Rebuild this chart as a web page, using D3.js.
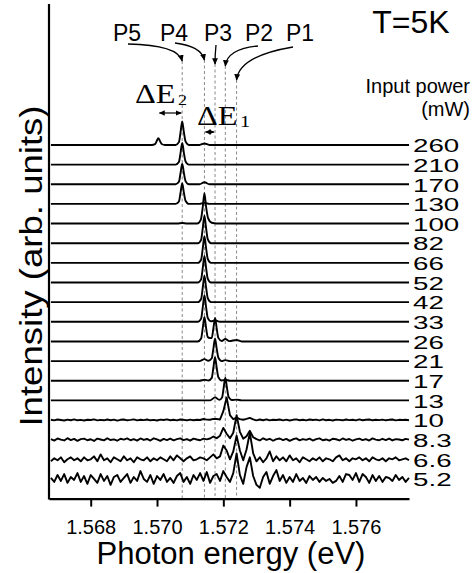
<!DOCTYPE html>
<html>
<head>
<meta charset="utf-8">
<script src="https://cdn.jsdelivr.net/npm/d3@7"></script>
<style>
  body { margin: 0; background: #fff; }
  svg { display: block; }
</style>
</head>
<body>
<div id="chart"></div>
<script>
// input power labels, top trace first
const powers = ['260','210','170','130','100','82','66','52','42','33','26','21','17','13','10','8.3','6.6','5.2'];

// peak positions (eV) marked by the dashed lines, and their names
const peakNames = ['P5','P4','P3','P2','P1'];
const peakEnergies = [1.57076, 1.57143, 1.57175, 1.57206, 1.5724];
const satellite = 1.57004; // small peak at 260 mW

const xTicks = [1.568, 1.570, 1.572, 1.574, 1.576];

// clean spectra: [energy eV, intensity above own baseline]
const s260 = [[1.5668,0],[1.56984,0],[1.56994,0.8],[1.56999,3.9],[1.57004,7],[1.57009,3.9],[1.57014,1],[1.57024,0],
  [1.57056,0],[1.57066,2.9],[1.57071,13],[1.57076,24],[1.57081,13],[1.57086,3.6],[1.57096,0],
  [1.57128,0],[1.57143,1.5],[1.57158,0],[1.5776,0]];
const s210 = [[1.5668,0],[1.57056,0],[1.57066,2.6],[1.57071,12],[1.57076,22],[1.57081,12],[1.57086,3.3],[1.57096,0],[1.5776,0]];
const s170 = [[1.5668,0],[1.57056,0],[1.57066,2.5],[1.57071,11.5],[1.57076,21],[1.57081,11.5],[1.57086,3.2],[1.57096,0],
  [1.57128,0],[1.57143,2],[1.57158,0],[1.5776,0]];
const s130 = [[1.5668,0],[1.57056,0],[1.57066,2.5],[1.57071,11.5],[1.57076,21],[1.57081,11.5],[1.57086,3.2],[1.57096,0],
  [1.57128,0],[1.57143,1],[1.57158,0],[1.5776,0]];
const s100 = [[1.5668,0],[1.57061,0],[1.57076,0.5],[1.57091,0],[1.57121,0],[1.57132,3.8],[1.57138,17],[1.57143,31],
  [1.57148,17],[1.57154,5.5],[1.57165,0.8],[1.5718,0],[1.5776,0]];
const s82 = [[1.5668,0],[1.57123,0],[1.57133,3.4],[1.57138,15.4],[1.57143,28],[1.57148,15.4],[1.57153,4.2],[1.57163,0],[1.5776,0]];
const s66 = [[1.5668,0],[1.57123,0],[1.57133,3.2],[1.57138,14.9],[1.57143,27],[1.57148,14.9],[1.57153,4],[1.57163,0],[1.5776,0]];
const s52 = [[1.5668,0],[1.57123,0],[1.57133,3.2],[1.57138,14.9],[1.57143,27],[1.57148,14.9],[1.57153,4],[1.57163,0],[1.5776,0]];
const s42 = [[1.5668,0],[1.57123,0],[1.57133,3.2],[1.57138,14.9],[1.57143,27],[1.57148,14.9],[1.57153,4],[1.57163,0],[1.5776,0]];
const s33 = [[1.5668,0],[1.57123,0],[1.57133,3.2],[1.57138,14.9],[1.57143,27],[1.57148,14.9],[1.57153,4],[1.57163,0.5],
  [1.57175,1.5],[1.5719,0],[1.5776,0]];
const s26 = [[1.5668,0],[1.57123,0],[1.57133,3],[1.57138,13.8],[1.57143,25],[1.57148,13.8],[1.57153,4.5],[1.57159,3.5],
  [1.57165,3.5],[1.5717,13.2],[1.57175,24],[1.5718,13.2],[1.57185,3.6],[1.57195,0.5],[1.57206,2.5],[1.57218,0.3],
  [1.5724,1.5],[1.57255,0],[1.5776,0]];
const s21 = [[1.5668,0],[1.57128,0],[1.57143,2],[1.57155,0.3],[1.57165,2.8],[1.5717,12.7],[1.57175,23],[1.5718,12.7],
  [1.57185,3.5],[1.57195,0],[1.57206,1],[1.5722,0],[1.5776,0]];
const s17 = [[1.5668,0],[1.57128,0],[1.57143,1],[1.57155,0.2],[1.57165,2.9],[1.5717,13.2],[1.57175,24],[1.5718,13.2],
  [1.57185,3.6],[1.57195,0.2],[1.57206,1],[1.5722,0],[1.5776,0]];
const s13 = [[1.5668,0],[1.5716,0],[1.57175,3],[1.57188,0.5],[1.57196,2.8],[1.57201,12.7],[1.57206,23],[1.57211,12.7],
  [1.57216,3.5],[1.57226,0.3],[1.5724,0.8],[1.57255,0],[1.5776,0]];

// noisy spectra, sampled on an even grid from gridStart to gridEnd
const gridStart = 1.5668, gridEnd = 1.5776;
const n10 = [0.3,-0.4,0.5,0,-0.5,0.4,-0.2,0.6,-0.3,0.2,
  -0.5,0.3,0,0.6,-0.4,0.2,-0.3,0.5,-0.2,0.4,
  -0.6,0.2,0.5,-0.3,0.1,0.6,-0.4,0.3,-0.1,0.5,
  -0.3,0.2,-0.5,0.4,0,0.6,-0.2,0.3,-0.4,0.5,
  0.2,-0.3,0.4,-0.2,0.3,0,1.0,0.4,0.3,1.2,
  1.0,0.5,9,23,5,0.8,2.4,0.9,0.3,1.2,
  2.2,0.6,-0.3,0.5,-0.2,0.7,-0.4,0.3,0,0.5,
  -0.3,0.4,-0.5,0.2,0.6,-0.2,0.3,-0.4,0.5,0,
  0.4,-0.3,0.6,-0.2,0.2,-0.5,0.4,0.1,-0.3,0.5,
  -0.1,0.3,-0.4,0.6,-0.2,0.2,0.5,-0.3,0.3,-0.1,
  0.4,-0.3,0.2,0.5,-0.4,0.2,0,0.3,-0.2];
const n8p3 = [0.5,-1,1.2,0,-0.8,1.5,-0.5,0.8,-1.2,0.6,
  1.0,-0.6,0.4,-1.3,1.1,0.2,-0.7,1.4,-0.4,0.3,
  -1.1,0.9,0.1,1.3,-0.6,0.5,-1.0,1.2,-0.3,0.7,
  -0.9,1.4,0.2,-1.2,0.8,-0.4,1.0,-0.7,0.5,1.3,
  -0.5,0.6,-1.0,1.1,0.2,-0.6,1.0,0.3,1.2,3.2,
  1.5,4,12,6,1.5,7,25,8,1.0,3.5,
  9,2.5,0.5,-0.8,1.4,-0.3,0.9,-1.1,0.6,1.2,
  -0.5,0.8,-1.2,0.4,1.3,-0.7,0.6,-0.2,1.1,-0.9,
  0.5,1.3,-0.6,0.2,-1.0,0.9,0.4,-0.8,1.2,-0.3,
  0.7,-1.1,0.3,1.0,-0.5,0.6,-0.9,1.3,0.1,-0.6,
  0.9,-0.4,1.1,-0.8,0.5,0.2,-0.6,0.8,0];
const n6p6 = [-2,1,-1,2,-3,0,2,-1,1,-2,
  2,-1,0,3,-2,5,-1,1,-3,2,
  0,-2,3,-1,1,-3,2,0,-1,2,
  -2,1,-1,2,0,-2,3,-1,4,1,
  -2,1,3,-1,0,2,1,-1,2,5,
  1,3,14,9,0,8,24,9,-1,10,
  27,6,-2,2,-3,1,8,-2,3,-1,
  2,-2,4,-1,1,-3,2,0,-2,1,
  -1,2,-2,1,0,-2,2,4,-1,1,
  -2,1,0,2,-1,1,-2,2,0,-1,
  1,-2,1,0,2,-1,0,1,-1];
const n5p2 = [1,-3,4,-2,5,-4,2,-1,6,-3,
  3,-5,4,0,-4,5,-2,3,-6,2,
  4,-3,1,5,-4,2,-2,8,0,-3,
  4,-5,3,-1,5,-3,1,-4,3,6,
  -3,2,-5,4,-1,6,-2,7,-4,3,
  5,-2,8,2,-3,6,26,4,-5,12,
  22,3,-6,-9,2,7,-5,3,9,-2,
  4,-4,2,-3,5,-2,1,-4,3,-1,
  2,-3,1,-2,0,-4,-2,3,-3,5,
  4,-1,6,-3,5,2,-4,4,-2,3,
  -3,2,1,-2,4,-1,2,-3,1];

function gridPoints(vals){
  var step = (gridEnd - gridStart) / (vals.length - 1);
  return vals.map((v, i) => [gridStart + i * step, v]);
}

const traces = [s260,s210,s170,s130,s100,s82,s66,s52,s42,s33,s26,s21,s17,s13]
  .map(d => ({pts: d, noisy: false}))
  .concat([n10, n8p3, n6p6, n5p2].map(d => ({pts: gridPoints(d), noisy: true})));

const W = 475, H = 573;
const sans = 'Liberation Sans, Arial, sans-serif';
const serif = 'Liberation Serif, Times New Roman, serif';
const svg = d3.select('#chart').append('svg').attr('width', W).attr('height', H);

const x = d3.scaleLinear().domain([1.566742, 1.5776]).range([49, 409]);
const y = d3.scaleLinear().domain([0, 503.5]).range([498.6, 4]);
const spacing = 20; // trace offset in intensity units

const defs = svg.append('defs');
defs.append('marker')
  .attr('id', 'head')
  .attr('viewBox', '0 0 10 10')
  .attr('refX', 9).attr('refY', 5)
  .attr('markerWidth', 5).attr('markerHeight', 6)
  .attr('orient', 'auto-start-reverse')
  .append('path').attr('d', 'M0,0.5L10,5L0,9.5z').attr('fill', '#000');

// dashed guide lines
const guideTop = [61, 60, 64, 66, 80];
svg.append('g').selectAll('line')
  .data(peakEnergies)
  .enter().append('line')
  .attr('x1', d => x(d)).attr('x2', d => x(d))
  .attr('y1', (d, i) => guideTop[i]).attr('y2', y(0))
  .attr('stroke', '#8a8a8a').attr('stroke-width', 1)
  .attr('stroke-dasharray', '3,2.5');

// spectra
const lineClean = d3.line().x(d => x(d[0])).curve(d3.curveMonotoneX);
const lineNoisy = d3.line().x(d => x(d[0]));
svg.append('g').selectAll('path')
  .data(traces)
  .enter().append('path')
  .attr('d', (t, i) => {
    var off = (powers.length - i) * spacing;
    var gen = t.noisy ? lineNoisy : lineClean;
    return gen.y(d => y(off + d[1]))(t.pts);
  })
  .attr('fill', 'none')
  .attr('stroke', '#000')
  .attr('stroke-width', 1.9)
  .attr('stroke-linejoin', 'round');

// power labels, stretched like the original
svg.append('g').selectAll('text')
  .data(powers)
  .enter().append('text')
  .attr('transform', (d, i) => `translate(413, ${y((powers.length - i) * spacing) + 1}) scale(1.5,1)`)
  .attr('dominant-baseline', 'central')
  .attr('font-family', sans)
  .attr('font-size', 18.5)
  .text(d => d);

// axes
const xAxis = d3.axisBottom(x).tickValues(xTicks).tickFormat(d3.format('.3f')).tickSize(8).tickSizeOuter(0);
const gx = svg.append('g').attr('transform', `translate(0, ${y(0)})`).call(xAxis);
gx.select('.domain').attr('stroke-width', 2.2);
gx.selectAll('.tick line').attr('stroke-width', 2);
gx.selectAll('.tick text')
  .attr('font-family', sans)
  .attr('font-size', 20).attr('fill', '#000').attr('dy', '1.2em');

svg.append('line')
  .attr('x1', 49).attr('x2', 49).attr('y1', y.range()[1]).attr('y2', y(0) + 1)
  .attr('stroke', '#000').attr('stroke-width', 2.2);

svg.append('text')
  .attr('x', 231).attr('y', 564)
  .attr('text-anchor', 'middle')
  .attr('font-family', sans)
  .attr('font-size', 31)
  .text('Photon energy (eV)');

svg.append('text')
  .attr('transform', 'translate(42, 266) rotate(-90) scale(1.18,1)')
  .attr('text-anchor', 'middle')
  .attr('font-family', sans)
  .attr('font-size', 31)
  .text('Intensity (arb. units)');

// top annotations
svg.append('text').attr('x', 411).attr('y', 33).attr('text-anchor', 'middle')
  .attr('font-family', sans).attr('font-size', 32).text('T=5K');
svg.append('text').attr('x', 470).attr('y', 93).attr('text-anchor', 'end')
  .attr('font-family', sans).attr('font-size', 20).text('Input power');
svg.append('text').attr('x', 470).attr('y', 116).attr('text-anchor', 'end')
  .attr('font-family', sans).attr('font-size', 20).text('(mW)');

const labelX = [127, 174, 218, 259, 300];
svg.append('g').selectAll('text')
  .data(peakNames)
  .enter().append('text')
  .attr('x', (d, i) => labelX[i]).attr('y', 41)
  .attr('text-anchor', 'middle')
  .attr('font-family', sans).attr('font-size', 23)
  .text(d => d);

// curved arrows from the names down to the guide lines
const arrowStart = [[128, 44], [175, 43], [216, 45], [258, 46], [293, 47]];
const arrowCtrl = [[178, 45], [201, 46], [215, 55], [227, 49], [239, 56]];
svg.append('g').selectAll('path')
  .data(peakEnergies)
  .enter().append('path')
  .attr('d', (d, i) => {
    var p = d3.path();
    p.moveTo(arrowStart[i][0], arrowStart[i][1]);
    p.quadraticCurveTo(arrowCtrl[i][0], arrowCtrl[i][1], x(d), guideTop[i]);
    return p.toString();
  })
  .attr('fill', 'none').attr('stroke', '#000').attr('stroke-width', 1.3)
  .attr('marker-end', 'url(#head)');

// energy splittings
function splitArrow(e1, e2, yy){
  svg.append('line')
    .attr('x1', x(e1) + 1).attr('x2', x(e2) - 1).attr('y1', yy).attr('y2', yy)
    .attr('stroke', '#000').attr('stroke-width', 1.2)
    .attr('marker-start', 'url(#head)').attr('marker-end', 'url(#head)');
}
splitArrow(satellite, peakEnergies[0], 113);
splitArrow(peakEnergies[1], peakEnergies[2], 132);

svg.append('text').attr('transform', 'translate(135, 103) scale(1.2,1)')
  .attr('font-family', serif).attr('font-size', 27).text('ΔE');
svg.append('text').attr('transform', 'translate(178, 105) scale(1.2,1)')
  .attr('font-family', serif).attr('font-size', 15).text('2');
svg.append('text').attr('transform', 'translate(197, 125) scale(1.2,1)')
  .attr('font-family', serif).attr('font-size', 27).text('ΔE');
svg.append('text').attr('transform', 'translate(240, 127) scale(1.2,1)')
  .attr('font-family', serif).attr('font-size', 17).text('1');
</script>
</body>
</html>
